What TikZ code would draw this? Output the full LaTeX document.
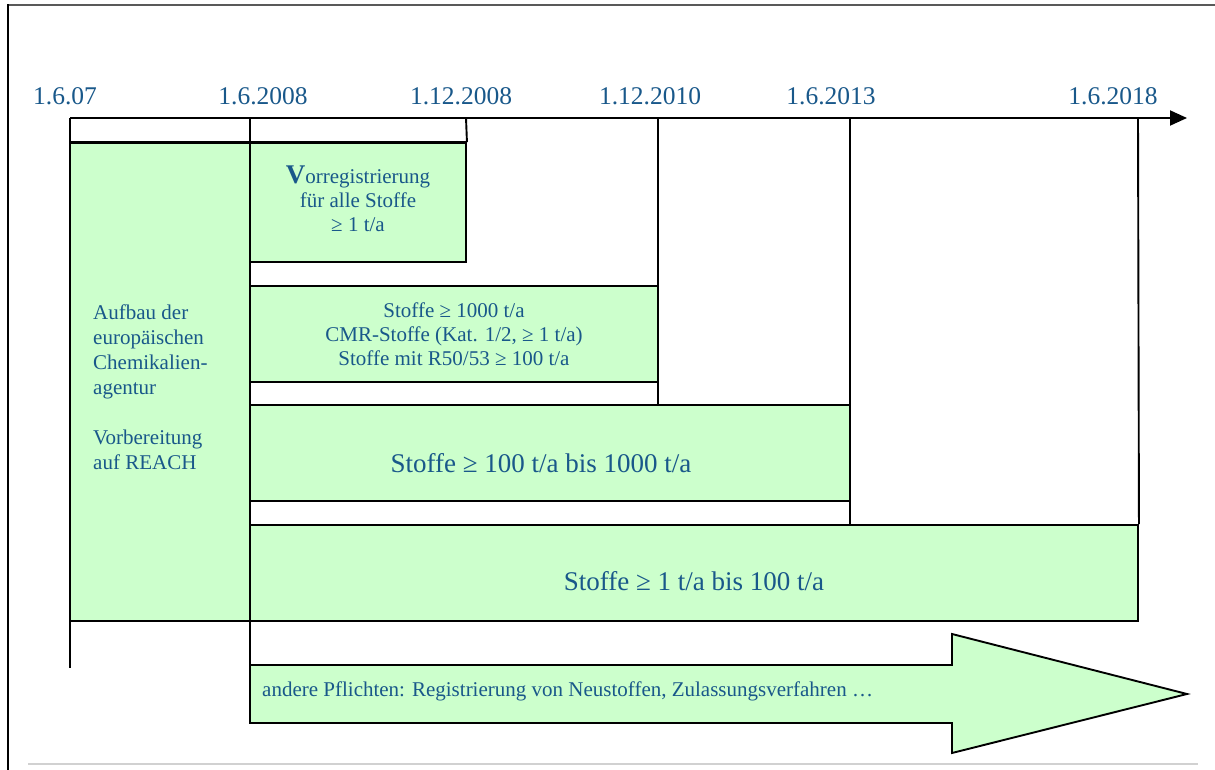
\documentclass[tikz,border=0pt]{standalone}
\usepackage{fontspec}
\setmainfont{Liberation Serif}
\usetikzlibrary{arrows.meta}
\definecolor{txt}{RGB}{25,88,138}
\definecolor{boxgreen}{RGB}{204,255,204}
\begin{document}
\begin{tikzpicture}[x=1pt,y=-1pt,
  line/.style={draw=black, line width=1.9pt},
  gbox/.style={draw=black, line width=1.9pt, fill=boxgreen, inner sep=0pt},
  datelbl/.style={text=txt, anchor=base, inner sep=0pt, font=\fontsize{25.5}{28}\selectfont},
  boxtxt/.style={text=txt, align=center, inner sep=0pt, font=\fontsize{21}{24}\selectfont},
  bigtxt/.style={text=txt, inner sep=0pt, font=\fontsize{27}{30}\selectfont}]
\useasboundingbox (0,0) rectangle (1215,770);
% frame
\draw[black!65, line width=1.5pt] (7,5) -- (1215,5);
\draw[black, line width=2.5pt] (8,4.5) -- (8,770);
\draw[black!18, line width=1.5pt] (28,764) -- (1198,764);
% date labels
\node[datelbl] (d0) at (65,105) {1.6.07};
\node[datelbl] (d1) at (263,105) {1.6.2008};
\node[datelbl] (d2) at (461,105) {1.12.2008};
\node[datelbl] (d3) at (650,105) {1.12.2010};
\node[datelbl] (d4) at (831,105) {1.6.2013};
\node[datelbl] (d5) at (1113,105) {1.6.2018};
% boxes
\node[gbox, minimum width=180pt, minimum height=478pt] (agency) at (160,382) {};
\node[gbox, minimum width=216pt, minimum height=119pt] (vorreg) at (358,202.5) {};
\node[gbox, minimum width=408pt, minimum height=96pt] (phase1) at (454,334) {};
\node[gbox, minimum width=600pt, minimum height=96pt] (phase2) at (550,453) {};
\node[gbox, minimum width=888pt, minimum height=96pt] (phase3) at (694,573) {};
% big arrow
\draw[gbox] (250,665) -- (952,665) -- (952,634) -- (1187,694) -- (952,753) -- (952,723) -- (250,723) -- cycle;
\node[text=txt, anchor=west, inner sep=0pt, font=\fontsize{21}{24}\selectfont] (other) at (262,691) {andere Pflichten: Registrierung von Neustoffen, Zulassungsverfahren …};
% timeline axis
\coordinate (t0) at (70,118);
\coordinate (t1) at (250,118);
\coordinate (t2) at (466,118);
\coordinate (t3) at (658,118);
\coordinate (t4) at (850,118);
\coordinate (t5) at (1138,118);
\coordinate (tend) at (1187,118);
\coordinate (b0) at (70,668);
\coordinate (b1) at (250,665);
\draw[line, -{Triangle[length=17pt,width=15pt]}] (t0) -- (tend);
\draw[line] (t0) -- (b0);
\draw[line] (t1) -- (b1);
\draw[line] (t2) -- (vorreg.north east);
\draw[line] (t3) -- (t3 |- phase2.north);
\draw[line] (t4) -- (t4 |- phase3.north);
\draw[line] (t5) -- (phase3.north east);
\draw[line] (agency.north west) -- (vorreg.north east);
% texts
\node[text=txt, anchor=west, align=left, inner sep=0pt, font=\fontsize{21}{25}\selectfont] (agencytxt) at (93,387) {Aufbau der\\europäischen\\Chemikalien-\\agentur\\[25pt]Vorbereitung\\auf REACH};
\node[boxtxt] (vorregtxt) at (358,199) {{\fontsize{27}{24}\selectfont\bfseries V}orregistrierung\\für alle Stoffe\\≥ 1 t/a};
\node[boxtxt] (phase1txt) at (454,334) {Stoffe ≥ 1000 t/a\\CMR-Stoffe (Kat. 1/2, ≥ 1 t/a)\\Stoffe mit R50/53 ≥ 100 t/a};
\node[bigtxt] (phase2txt) at (541,463) {Stoffe ≥ 100 t/a bis 1000 t/a};
\node[bigtxt] (phase3txt) at (694,581) {Stoffe ≥ 1 t/a bis 100 t/a};
\end{tikzpicture}
\end{document}
